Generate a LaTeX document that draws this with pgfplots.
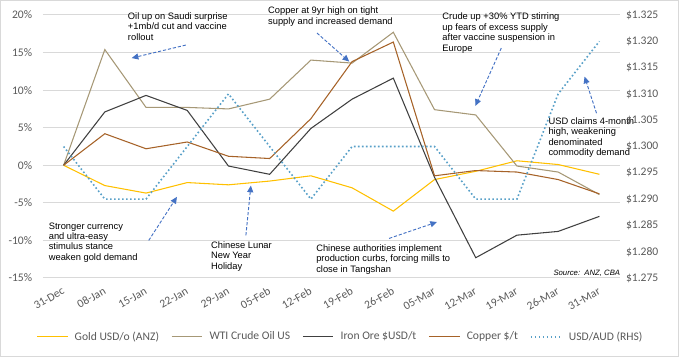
\documentclass[border=0pt]{standalone}
\usepackage{fontspec}
\setmainfont{Carlito}
\newfontfamily\arialfont{Liberation Sans}
\usepackage{pgfplots}
\usepackage{pgfplotstable}
\pgfplotsset{compat=1.18}
\usetikzlibrary{arrows.meta}
\definecolor{goldc}{RGB}{255,192,0}
\definecolor{wtic}{RGB}{166,152,118}
\definecolor{ironc}{RGB}{64,64,64}
\definecolor{copperc}{RGB}{166,98,40}
\definecolor{audc}{RGB}{88,160,200}
\definecolor{arrowc}{RGB}{68,114,196}
\definecolor{gridc}{RGB}{217,217,217}
\definecolor{tickc}{RGB}{89,89,89}

\pgfplotstableread{
x gold wti iron copper aud
0 0 0 0 0 1.300
1 -2.7 15.4 7.1 4.2 1.290
2 -3.7 7.7 9.3 2.2 1.290
3 -2.3 7.7 7.3 3.1 1.300
4 -2.6 7.5 -0.1 1.2 1.310
5 -2.1 8.8 -1.2 0.9 1.300
6 -1.4 14.0 4.9 6.2 1.290
7 -3.0 13.6 8.8 13.8 1.300
8 -6.1 17.7 11.6 16.4 1.300
9 -1.9 7.4 -1.6 -1.4 1.300
10 -0.8 6.7 -12.3 -0.7 1.290
11 0.6 -0.1 -9.3 -0.9 1.290
12 0.1 -0.9 -8.8 -1.9 1.310
13 -1.2 -3.9 -6.8 -3.8 1.320
}\data

\newcommand\tickfont{\fontsize{8.7}{10}\selectfont}
\newcommand\annfont{\arialfont\fontsize{7}{7.8}\selectfont}
\tikzset{
  annot/.style={anchor=north west, align=left, inner sep=0pt, font=\annfont},
  arr/.style={arrowc, line width=0.7pt, dash pattern=on 2.4pt off 1.4pt, -{Triangle[length=5pt,width=4.5pt]}},
  audstyle/.style={audc, line width=1.2pt, dash pattern=on 1.2pt off 1.8pt}
}

\begin{document}
\begin{tikzpicture}
\useasboundingbox (-32.25pt,-59.25pt) rectangle (477pt,208.5pt);
\draw[gridc, line width=0.75pt] (-31.85pt,-58.85pt) rectangle (476.6pt,208.1pt);
\begin{axis}[
  at={(0,0)}, anchor=south west, name=ax,
  scale only axis, width=432.75pt, height=197.25pt,
  xmin=-0.5, xmax=13.5, ymin=-15, ymax=20,
  xtick={0,...,13},
  xticklabels={31-Dec,08-Jan,15-Jan,22-Jan,29-Jan,05-Feb,12-Feb,19-Feb,26-Feb,05-Mar,12-Mar,19-Mar,26-Mar,31-Mar},
  ytick={-15,-10,-5,0,5,10,15,20},
  yticklabels={-15\%,-10\%,-5\%,0\%,5\%,10\%,15\%,20\%},
  ymajorgrids, major grid style={draw=gridc, line width=0.75pt},
  axis line style={draw=none}, tick style={draw=none},
  ticklabel style={font=\tickfont, text=tickc},
  xticklabel shift=9pt,
  xticklabel style={anchor=east, rotate=30, inner sep=0pt},
  yticklabel style={xshift=-4.6pt},
  clip=false,
  legend columns=-1,
  legend style={at={(0.516,-0.224)}, anchor=center, draw=none, fill=none,
    font=\tickfont, text=tickc,
    /tikz/every even column/.append style={column sep=7pt},
    /tikz/every odd column/.append style={column sep=3pt}},
  legend image code/.code={\draw[#1] (0pt,0pt) -- (23pt,0pt);},
]
\addplot[goldc, line width=0.8pt] table[x=x, y=gold] {\data};
\addlegendentry{Gold USD/o (ANZ)}
\addplot[wtic, line width=0.8pt] table[x=x, y=wti] {\data};
\addlegendentry{WTI Crude Oil US}
\addplot[ironc, line width=0.8pt] table[x=x, y=iron] {\data};
\addlegendentry{Iron Ore \$USD/t}
\addplot[copperc, line width=0.8pt] table[x=x, y=copper] {\data};
\addlegendentry{Copper \$/t}
\addlegendimage{audstyle}
\addlegendentry{USD/AUD (RHS)}

\node[annot] at (axis cs:1.555,20.33) {Oil up on Saudi surprise\\+1mb/d cut and vaccine\\rollout};
\draw[arr] (axis cs:2.965,16.0) -- (axis cs:1.652,14.27);
\node[annot] at (axis cs:4.957,21.1) {Copper at 9yr high on tight\\supply and increased demand};
\draw[arr] (axis cs:6.148,17.6) -- (axis cs:6.93,13.8);
\node[annot] at (axis cs:9.186,20.27) {Crude up +30\%  YTD stirring\\up fears of excess supply\\after vaccine suspension in\\Europe};
\draw[arr] (axis cs:10.62,15.6) -- (axis cs:9.99,7.9);
\node[annot] at (axis cs:11.76,6.4) {USD claims 4-month\\high, weakening\\denominated\\commodity demand};
\draw[arr] (axis cs:12.93,6.93) -- (axis cs:12.64,11.8);
\node[annot] at (axis cs:-0.365,-7.6) {Stronger currency\\and ultra-easy\\stimulus stance\\weaken gold demand};
\draw[arr] (axis cs:2.066,-10.0) -- (axis cs:2.75,-4.2);
\node[annot] at (axis cs:3.572,-10.13) {Chinese Lunar\\New Year\\Holiday};
\draw[arr] (axis cs:4.423,-9.33) -- (axis cs:4.544,-2.7);
\node[annot] at (axis cs:6.124,-10.53) {Chinese authorities implement\\production curbs, forcing mills to\\close in Tangshan};
\draw[arr] (axis cs:7.898,-9.73) -- (axis cs:9.06,-7.55);
\node[anchor=base east, inner sep=0pt, font=\arialfont\itshape\fontsize{5.8}{7}\selectfont] at (axis cs:13.51,-14.67) {Source:\ \ ANZ, CBA};
\end{axis}
\begin{axis}[
  at={(0,0)}, anchor=south west,
  scale only axis, width=432.75pt, height=197.25pt,
  xmin=-0.5, xmax=13.5, ymin=1.275, ymax=1.325,
  axis y line*=right, axis x line=none,
  axis line style={draw=none}, tick style={draw=none},
  ytick={1.275,1.280,1.285,1.290,1.295,1.300,1.305,1.310,1.315,1.320,1.325},
  yticklabels={\$1.275,\$1.280,\$1.285,\$1.290,\$1.295,\$1.300,\$1.305,\$1.310,\$1.315,\$1.320,\$1.325},
  ticklabel style={font=\tickfont, text=tickc},
  yticklabel style={xshift=1pt},
  clip=false,
]
\addplot[audstyle] table[x=x, y=aud] {\data};
\end{axis}
\end{tikzpicture}
\end{document}
